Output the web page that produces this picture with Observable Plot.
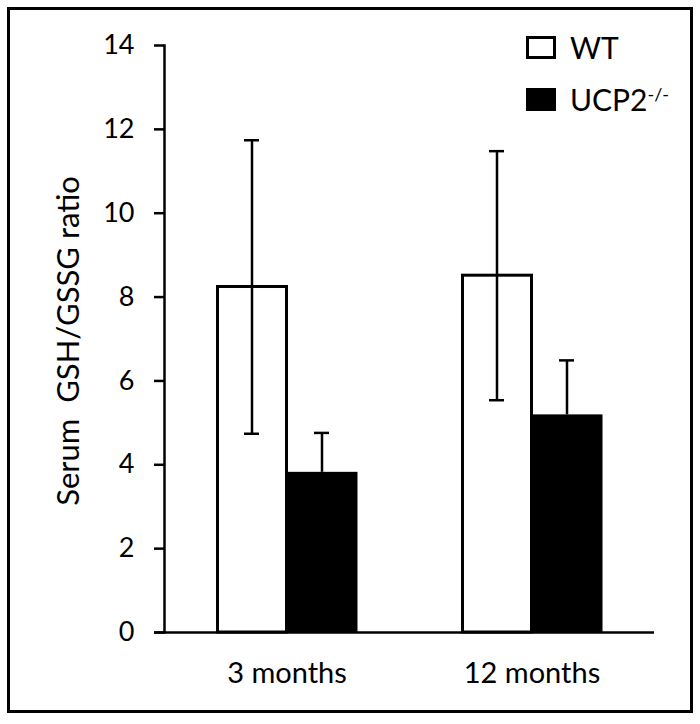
<!DOCTYPE html>
<html>
<head>
<meta charset="utf-8">
<script src="https://cdn.jsdelivr.net/npm/d3@7"></script>
<script src="https://cdn.jsdelivr.net/npm/@observablehq/plot@0.6"></script>
<style>
  html, body { margin: 0; padding: 0; background: #fff; }
  #wrap { position: relative; width: 700px; height: 724px; font-family: Lato, "Open Sans", sans-serif; color: #000; }
  #wrap svg { position: absolute; left: 0; top: 0; }
  #border { position: absolute; left: 7px; top: 7px; width: 686px; height: 706px; box-sizing: border-box; border: 3px solid #000; pointer-events: none; }
  .leg { position: absolute; left: 526px; display: flex; align-items: center; font-size: 30px; line-height: 1; }
  .sw { width: 30px; height: 23px; box-sizing: border-box; margin-right: 14px; }
  sup { font-size: 60%; vertical-align: 0.55em; }
</style>
</head>
<body>
<div id="wrap">
  <div id="border"></div>
</div>
<script>
const months = ["3 months", "12 months"];
const seriesNames = ["WT", "UCP2"];
const wtMean = [8.24, 8.51];
const wtErr = [3.5, 2.97];
const ucpMean = [3.82, 5.19];
const ucpErr = [0.94, 1.30];
const yTicks = [0, 2, 4, 6, 8, 10, 12, 14];
const yLabel = "Serum  GSH/GSSG ratio";

const wt = months.map((m, i) => ({month: m, value: wtMean[i], lo: wtMean[i] - wtErr[i], hi: wtMean[i] + wtErr[i]}));
const ucp = months.map((m, i) => ({month: m, value: ucpMean[i], lo: ucpMean[i] - ucpErr[i], hi: ucpMean[i] + ucpErr[i]}));

const chart = Plot.plot({
  width: 700,
  height: 724,
  marginTop: 45,
  marginBottom: 92,
  marginLeft: 164,
  marginRight: 46,
  style: {fontFamily: "Lato, 'Open Sans', sans-serif", color: "#000", background: "transparent"},
  x: {type: "band", domain: months, padding: 0},
  y: {domain: [0, 14]},
  marks: [
    Plot.barY(wt, {x: "month", y: "value", fill: "white", stroke: "black", strokeWidth: 3, insetLeft: 53.5, insetRight: 122.5}),
    Plot.barY(ucp, {x: "month", y: "value", fill: "black", insetLeft: 122.5, insetRight: 51.5}),
    Plot.ruleX(wt, {x: "month", y1: "lo", y2: "hi", dx: -35, stroke: "black", strokeWidth: 2.5}),
    Plot.tickY(wt, {x: "month", y: "lo", insetLeft: 80, insetRight: 150, stroke: "black", strokeWidth: 2.5}),
    Plot.tickY(wt, {x: "month", y: "hi", insetLeft: 80, insetRight: 150, stroke: "black", strokeWidth: 2.5}),
    Plot.ruleX(ucp, {x: "month", y1: "value", y2: "hi", dx: 35, stroke: "black", strokeWidth: 2.5}),
    Plot.tickY(ucp, {x: "month", y: "hi", insetLeft: 150, insetRight: 80, stroke: "black", strokeWidth: 2.5}),
    Plot.ruleY([0], {stroke: "black", strokeWidth: 2.5, insetLeft: -10}),
    Plot.frame({anchor: "left", stroke: "black", strokeWidth: 2.5}),
    Plot.axisY({ticks: yTicks, tickSize: 10, tickPadding: 20, strokeWidth: 2.5, fontSize: 27, label: null, tickFormat: d3.format("d")}),
    Plot.axisX({tickSize: 0, tickPadding: 30, fontSize: 29, label: null}),
    Plot.text([yLabel], {frameAnchor: "left", text: d => d, rotate: -90, textAnchor: "middle", dx: -95, dy: 2, fontSize: 31, fill: "black"})
  ]
});
const wrap = document.getElementById("wrap");
wrap.insertBefore(chart, wrap.firstChild);

// legend
const legendItems = [
  {name: seriesNames[0], top: 32, style: "border:3px solid #000;background:#fff;", html: "WT"},
  {name: seriesNames[1], top: 84, style: "background:#000;", html: "UCP2<sup>-/-</sup>"}
];
for (const it of legendItems) {
  const d = document.createElement("div");
  d.className = "leg";
  d.style.top = it.top + "px";
  d.innerHTML = `<div class="sw" style="${it.style}"></div><span>${it.html}</span>`;
  wrap.appendChild(d);
}
</script>
</body>
</html>
